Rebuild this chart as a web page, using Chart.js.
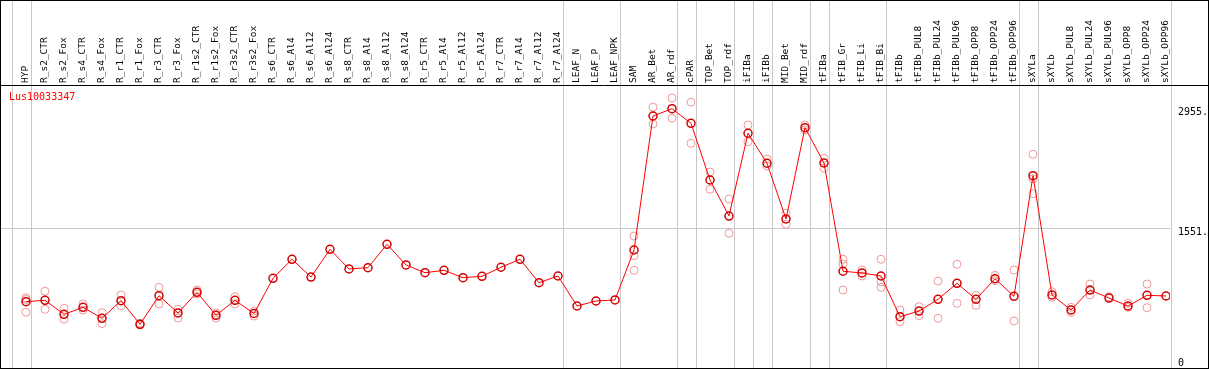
<!DOCTYPE html>
<html>
<head>
<meta charset="utf-8">
<script src="https://cdn.jsdelivr.net/npm/chart.js@4"></script>
<style>
  body { margin: 0; background: #fff; }
  canvas { display: block; }
</style>
</head>
<body>
<canvas id="grafico" width="1209" height="370"></canvas>
<script>
// Categorias (eixo de cima)
const categorias = ['HYP', 'R_s2_CTR', 'R_s2_Fox', 'R_s4_CTR', 'R_s4_Fox', 'R_r1_CTR', 'R_r1_Fox', 'R_r3_CTR', 'R_r3_Fox',
  'R_r1s2_CTR', 'R_r1s2_Fox', 'R_r3s2_CTR', 'R_r3s2_Fox', 'R_s6_CTR', 'R_s6_Al4', 'R_s6_Al12', 'R_s6_Al24',
  'R_s8_CTR', 'R_s8_Al4', 'R_s8_Al12', 'R_s8_Al24', 'R_r5_CTR', 'R_r5_Al4', 'R_r5_Al12', 'R_r5_Al24',
  'R_r7_CTR', 'R_r7_Al4', 'R_r7_Al12', 'R_r7_Al24', 'LEAF_N', 'LEAF_P', 'LEAF_NPK', 'SAM', 'AR_Bet', 'AR_rdf',
  'cPAR', 'TOP_Bet', 'TOP_rdf', 'iFIBa', 'iFIBb', 'MID_Bet', 'MID_rdf', 'tFIBa', 'tFIB_Gr', 'tFIB_Li', 'tFIB_Bi',
  'tFIBb', 'tFIBb_PUL8', 'tFIBb_PUL24', 'tFIBb_PUL96', 'tFIBb_OPP8', 'tFIBb_OPP24', 'tFIBb_OPP96',
  'sXYLa', 'sXYLb', 'sXYLb_PUL8', 'sXYLb_PUL24', 'sXYLb_PUL96', 'sXYLb_OPP8', 'sXYLb_OPP24', 'sXYLb_OPP96'];

// Media por amostra
const medias = [684, 700, 535, 618, 488, 696, 418, 754, 551, 794, 524, 700, 545,
  959, 1183, 974, 1300, 1069, 1084, 1359, 1116, 1025, 1053, 966, 983, 1089, 1183, 907, 986,
  633, 692, 704, 1292, 2869, 2955, 2783, 2116, 1692, 2666, 2313, 1657, 2732, 2316,
  1042, 1022, 986, 507, 574, 712, 900, 712, 954, 747,
  2167, 763, 586, 821, 727, 633, 759, 751];

// Replicas por amostra
const replicas = [
  [730, 710, 560], [806, 594], [606, 477], [657, 586], [554, 425], [763, 637], [430, 410], [853, 657], [594, 492],
  [821, 774], [551, 492], [743, 657], [574, 515],
  [], [], [], [], [], [], [], [], [], [], [], [], [], [], [], [],
  [], [], [], [1457, 1225, 1053], [2972, 2775], [3081, 2842], [3031, 2548], [2210, 2007], [1892, 1489],
  [2763, 2567], [2363, 2281], [1724, 1595], [2763, 2704], [2371, 2254],
  [1183, 1127, 821], [1057, 986], [1183, 919, 853], [586, 448], [625, 519], [927, 488], [1124, 665],
  [759, 641], [994, 931], [1057, 457],
  [2419, 2131, 1955], [801, 736], [618, 559], [892, 763], [743], [665, 618], [892, 613], []];

// Ticks do eixo da direita
const ticksY = [0, 1551, 2955];
const rotulosY = ['0', '1551.', '2955.'];

// Separadores de grupo (linha depois do indice)
const fimGrupos = [-1, 0, 28, 31, 34, 35, 37, 38, 39, 41, 42, 45, 52, 53, 60];

const titulo = 'Lus10033347';

const pontosMedia = medias.map((v, i) => ({ x: i, y: v }));
const pontosReplica = [];
replicas.forEach((lista, i) => lista.forEach(v => pontosReplica.push({ x: i, y: v })));

const fonte = 'DejaVu Sans Mono';

const molduraPlugin = {
    id: 'moldura',
    beforeDraw(chart) {
        const c = chart.ctx;
        c.save();
        c.fillStyle = '#fff';
        c.fillRect(0, 0, chart.width, chart.height);
        c.restore();
    },
    beforeDatasetsDraw(chart) {
        const c = chart.ctx;
        const xs = chart.scales.x;
        const area = chart.chartArea;
        c.save();
        c.strokeStyle = '#c8c8c8';
        c.lineWidth = 1;
        fimGrupos.forEach(g => {
            const px = Math.round(xs.getPixelForValue(g + 0.24)) + 0.5;
            c.beginPath();
            c.moveTo(px, 0);
            c.lineTo(px, area.bottom);
            c.stroke();
        });
        // rotulos das categorias, na vertical
        c.fillStyle = '#000';
        c.font = '9.5px ' + fonte;
        c.textAlign = 'left';
        c.textBaseline = 'middle';
        categorias.forEach((nome, i) => {
            const px = xs.getPixelForValue(i);
            c.save();
            c.translate(px, area.top - 2);
            c.rotate(-Math.PI / 2);
            c.fillText(nome, 0, 0);
            c.restore();
        });
        c.restore();
    },
    afterDraw(chart) {
        const c = chart.ctx;
        const area = chart.chartArea;
        c.save();
        c.strokeStyle = '#000';
        c.lineWidth = 1;
        c.beginPath();
        c.moveTo(0, area.top + 0.5);
        c.lineTo(chart.width, area.top + 0.5);
        c.stroke();
        c.strokeRect(0.5, 0.5, chart.width - 1, area.bottom);
        c.fillStyle = '#ff0000';
        c.font = '10px ' + fonte;
        c.textBaseline = 'top';
        c.fillText(titulo, 9, area.top + 7);
        c.restore();
    }
};

const ctx = document.getElementById('grafico').getContext('2d');
new Chart(ctx, {
    type: 'line',
    data: {
        datasets: [{
            label: 'media',
            data: pontosMedia,
            borderColor: '#ff0000',
            borderWidth: 1,
            pointRadius: 4,
            pointBorderWidth: 1.5,
            pointBorderColor: '#d00000',
            pointBackgroundColor: 'rgba(0,0,0,0)',
            tension: 0,
            order: 0
        }, {
            label: 'replicas',
            data: pontosReplica,
            showLine: false,
            pointRadius: 4,
            pointBorderWidth: 1,
            pointBorderColor: '#f09a9a',
            pointBackgroundColor: 'rgba(0,0,0,0)',
            order: 1
        }]
    },
    options: {
        responsive: false,
        animation: false,
        layout: { autoPadding: false, padding: { left: 1, right: 1, top: 0, bottom: 2 } },
        plugins: {
            legend: { display: false },
            tooltip: { enabled: false }
        },
        scales: {
            x: {
                type: 'linear',
                position: 'top',
                bounds: 'data',
                min: -1.3158,
                max: 60.2105,
                grid: { display: false, drawTicks: false },
                border: { display: false },
                afterBuildTicks: s => { s.ticks = categorias.map((c, i) => ({ value: i })); },
                afterFit: s => {
                    s.height = 85;
                    s.paddingLeft = 0;
                    s.paddingRight = 0;
                },
                ticks: { display: false }
            },
            y: {
                position: 'right',
                bounds: 'data',
                min: -96.5,
                max: 3233.9,
                afterBuildTicks: s => { s.ticks = ticksY.map(v => ({ value: v })); },
                afterFit: s => {
                    s.width = 38;
                    s.paddingTop = 0;
                    s.paddingBottom = 0;
                },
                grid: {
                    drawTicks: false,
                    color: c => (c.tick && c.tick.value === 1551) ? '#c8c8c8' : 'rgba(0,0,0,0)'
                },
                border: { display: false },
                ticks: {
                    padding: 8,
                    labelOffset: 4,
                    color: '#000',
                    font: { family: fonte, size: 10 },
                    callback: v => rotulosY[ticksY.indexOf(v)]
                }
            }
        }
    },
    plugins: [molduraPlugin]
});
</script>
</body>
</html>
